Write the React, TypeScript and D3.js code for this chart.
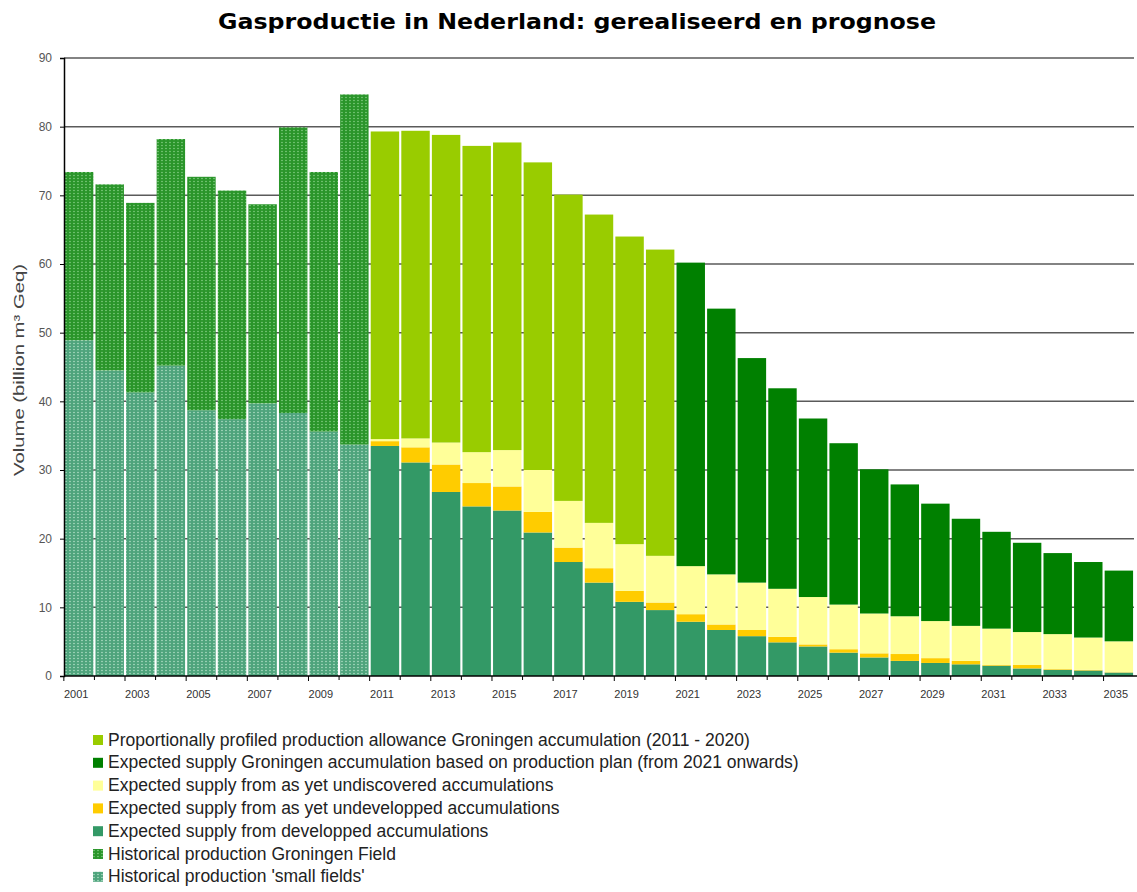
import React, { useEffect, useRef } from 'react';
import * as d3 from 'd3';

// historical years 2001-2010
const histYears = [2001, 2002, 2003, 2004, 2005, 2006, 2007, 2008, 2009, 2010];
const smallFields = [48.9, 44.5, 41.3, 45.2, 38.7, 37.4, 39.7, 38.3, 35.6, 33.7];
const histGroningen = [24.5, 27.1, 27.6, 33.0, 34.0, 33.3, 29.0, 41.6, 37.8, 51.0];

// forecast years 2011-2035
const fcYears = [2011, 2012, 2013, 2014, 2015, 2016, 2017, 2018, 2019, 2020, 2021, 2022, 2023,
  2024, 2025, 2026, 2027, 2028, 2029, 2030, 2031, 2032, 2033, 2034, 2035];
const developed = [33.5, 31.1, 26.8, 24.7, 24.1, 20.9, 16.6, 13.6, 10.8, 9.6, 7.9, 6.7, 5.8,
  4.9, 4.3, 3.4, 2.7, 2.2, 1.9, 1.7, 1.5, 1.1, 0.9, 0.8, 0.5];
const undeveloped = [0.7, 2.2, 4.0, 3.4, 3.5, 3.0, 2.1, 2.1, 1.6, 1.1, 1.1, 0.8, 0.9,
  0.8, 0.3, 0.5, 0.6, 1.0, 0.7, 0.5, 0.1, 0.5, 0.1, 0.1, 0.05];
const undiscovered = [0.3, 1.3, 3.2, 4.5, 5.3, 6.1, 6.8, 6.6, 6.8, 6.8, 7.0, 7.3, 6.9,
  7.0, 6.9, 6.5, 5.8, 5.5, 5.4, 5.1, 5.3, 4.8, 5.1, 4.7, 4.5];
// Groningen allowance 2011-2020, production plan 2021-2035
const allowanceYears = [2011, 2012, 2013, 2014, 2015, 2016, 2017, 2018, 2019, 2020];
const groningenAllowance = [44.8, 44.8, 44.8, 44.6, 44.8, 44.8, 44.6, 44.9, 44.8, 44.6];
const planYears = [2021, 2022, 2023, 2024, 2025, 2026, 2027, 2028, 2029, 2030, 2031, 2032,
  2033, 2034, 2035];
const groningenPlan = [44.2, 38.7, 32.7, 29.2, 26.0, 23.5, 21.0, 19.2, 17.1, 15.6, 14.1, 13.0,
  11.8, 11.0, 10.3];

const yTicks = [0, 10, 20, 30, 40, 50, 60, 70, 80, 90];

const keys = ['small', 'histGron', 'developed', 'undeveloped', 'undiscovered', 'allowance', 'plan'];
const fills: Record<string, string> = {
  small: 'url(#patSmall)',
  histGron: 'url(#patGron)',
  developed: '#339966',
  undeveloped: '#ffcc00',
  undiscovered: '#ffff99',
  allowance: '#99cc00',
  plan: '#008000',
};
const legendItems = [
  { key: 'allowance', label: 'Proportionally profiled production allowance Groningen accumulation (2011 - 2020)' },
  { key: 'plan', label: 'Expected supply Groningen accumulation based on production plan (from 2021 onwards)' },
  { key: 'undiscovered', label: 'Expected supply from as yet undiscovered accumulations' },
  { key: 'undeveloped', label: 'Expected supply from as yet undevelopped accumulations' },
  { key: 'developed', label: 'Expected supply from developped accumulations' },
  { key: 'histGron', label: 'Historical production Groningen Field' },
  { key: 'small', label: "Historical production 'small fields'" },
];

const font = 'Liberation Sans, Arial, sans-serif';

function App() {
  const ref = useRef<SVGSVGElement>(null);

  useEffect(() => {
    const years = [...histYears, ...fcYears];
    const rows = years.map(year => {
      const row: any = { year };
      keys.forEach(k => (row[k] = 0));
      const hi = histYears.indexOf(year);
      if (hi >= 0) {
        row.small = smallFields[hi];
        row.histGron = histGroningen[hi];
      }
      const fi = fcYears.indexOf(year);
      if (fi >= 0) {
        row.developed = developed[fi];
        row.undeveloped = undeveloped[fi];
        row.undiscovered = undiscovered[fi];
      }
      const ai = allowanceYears.indexOf(year);
      if (ai >= 0) row.allowance = groningenAllowance[ai];
      const pi = planYears.indexOf(year);
      if (pi >= 0) row.plan = groningenPlan[pi];
      return row;
    });

    const left = 64, right = 1134, top = 58, bottom = 676;

    const svg = d3.select(ref.current);
    svg.selectAll('*').remove();

    const defs = svg.append('defs');
    const makePattern = (id: string, base: string, dot: string) => {
      const p = defs.append('pattern')
        .attr('id', id)
        .attr('width', 4)
        .attr('height', 3)
        .attr('patternUnits', 'userSpaceOnUse');
      p.append('rect').attr('width', 4).attr('height', 3).attr('fill', base);
      p.append('ellipse')
        .attr('cx', 2).attr('cy', 1.5).attr('rx', 0.9).attr('ry', 0.7)
        .attr('fill', dot);
    };
    makePattern('patGron', '#2a952a', '#7cc97c');
    makePattern('patSmall', '#4ea47c', '#a8dac0');

    const x = d3.scaleBand<number>()
      .domain(years)
      .range([left, right])
      .paddingInner(0.07)
      .paddingOuter(0.03);

    const y = d3.scaleLinear().domain([0, 90]).range([bottom, top]);

    // title
    svg.append('text')
      .attr('x', 577)
      .attr('y', 29)
      .attr('text-anchor', 'middle')
      .attr('textLength', 718)
      .attr('lengthAdjust', 'spacingAndGlyphs')
      .style('font-family', 'DejaVu Sans Condensed, DejaVu Sans, sans-serif')
      .style('font-weight', 'bold')
      .style('font-size', '21px')
      .attr('fill', '#000')
      .text('Gasproductie in Nederland: gerealiseerd en prognose');

    // gridlines
    svg.append('g')
      .selectAll('line')
      .data(yTicks.filter(t => t > 0))
      .enter()
      .append('line')
      .attr('x1', left)
      .attr('x2', right)
      .attr('y1', d => y(d))
      .attr('y2', d => y(d))
      .attr('stroke', '#5a5a5a')
      .attr('stroke-width', 1.5);

    // stacked bars
    const stacked = d3.stack<any>().keys(keys)(rows);
    svg.append('g')
      .selectAll('g')
      .data(stacked)
      .enter()
      .append('g')
      .attr('fill', d => fills[d.key])
      .selectAll('rect')
      .data(d => d.filter(s => s[1] - s[0] > 0))
      .enter()
      .append('rect')
      .attr('x', d => x(d.data.year) as number)
      .attr('width', x.bandwidth())
      .attr('y', d => y(d[1]))
      .attr('height', d => y(d[0]) - y(d[1]));

    // y axis
    const yAxis = svg.append('g')
      .attr('transform', `translate(${left},0)`)
      .call(d3.axisLeft(y).tickValues(yTicks).tickSize(4).tickPadding(8));
    yAxis.select('.domain').attr('stroke', '#000').attr('stroke-width', 1.5);
    yAxis.selectAll('.tick line').attr('stroke', '#000');
    yAxis.selectAll('.tick text')
      .style('font-family', font)
      .style('font-size', '12px')
      .attr('fill', '#555');

    svg.append('text')
      .attr('transform', `translate(24,370) rotate(-90)`)
      .attr('text-anchor', 'middle')
      .attr('textLength', 212)
      .attr('lengthAdjust', 'spacingAndGlyphs')
      .style('font-family', font)
      .style('font-size', '15px')
      .attr('fill', '#444')
      .text('Volume (billion m³ Geq)');

    // x axis
    const xg = svg.append('g');
    xg.append('line')
      .attr('x1', left).attr('x2', right + 3)
      .attr('y1', bottom).attr('y2', bottom)
      .attr('stroke', '#000').attr('stroke-width', 1.5);
    xg.selectAll('.tk')
      .data(years)
      .enter()
      .append('line')
      .attr('x1', d => (x(d) as number) - x.step() * x.paddingInner() / 2)
      .attr('x2', d => (x(d) as number) - x.step() * x.paddingInner() / 2)
      .attr('y1', bottom)
      .attr('y2', (d, i) => bottom + (i % 2 === 0 ? 5 : 4))
      .attr('stroke', '#000');
    xg.selectAll('.lbl')
      .data(years.filter(d => d % 2 === 1))
      .enter()
      .append('text')
      .attr('x', d => (x(d) as number) + x.bandwidth() / 2 - 3)
      .attr('y', bottom + 22)
      .attr('text-anchor', 'middle')
      .style('font-family', font)
      .style('font-size', '11px')
      .attr('fill', '#333')
      .text(d => String(d));

    // legend
    const lg = svg.append('g');
    legendItems.forEach((item, i) => {
      const cy = 740 + i * 22.8;
      lg.append('rect')
        .attr('x', 93)
        .attr('y', cy - 5)
        .attr('width', 10)
        .attr('height', 10)
        .attr('fill', fills[item.key]);
      lg.append('text')
        .attr('x', 108)
        .attr('y', cy + 5.5)
        .style('font-family', font)
        .style('font-size', '17.5px')
        .attr('fill', '#222')
        .text(item.label);
    });
  }, []);

  return (
    <div style={{ position: 'absolute', left: 0, top: 0 }}>
      <svg ref={ref} width={1137} height={892} style={{ display: 'block', background: '#fff' }} />
    </div>
  );
}

export default App;
